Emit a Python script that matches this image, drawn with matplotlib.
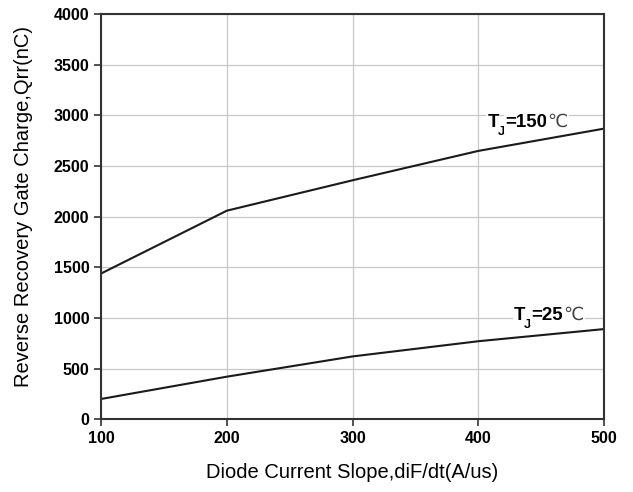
import matplotlib
matplotlib.use("Agg")
import matplotlib.pyplot as plt
from matplotlib.transforms import offset_copy

plt.rcParams['font.family'] = ['Liberation Sans', 'DejaVu Sans']

x_vals = [100, 200, 300, 400, 500]
qrr_150 = [1440, 2060, 2360, 2650, 2870]
qrr_25 = [200, 420, 620, 770, 890]
x_ticks = [100, 200, 300, 400, 500]
y_ticks = [0, 500, 1000, 1500, 2000, 2500, 3000, 3500, 4000]

fig = plt.figure(figsize=(6.33, 4.92), dpi=100)
ax = fig.add_axes([0.160, 0.148, 0.794, 0.823])

ax.plot(x_vals, qrr_150, color='#1a1a1a', lw=1.5)
ax.plot(x_vals, qrr_25, color='#1a1a1a', lw=1.5)

ax.set_xlim(100, 500)
ax.set_ylim(0, 4000)
ax.set_xticks(x_ticks)
ax.set_yticks(y_ticks)
ax.grid(True, color='#c8c8c8', lw=0.9)
ax.set_axisbelow(True)

for s in ax.spines.values():
    s.set_color('#333333')
    s.set_linewidth(1.5)

ax.tick_params(direction='out', length=5, width=1.2, color='#333333', labelsize=11.5)
for lab in ax.get_xticklabels() + ax.get_yticklabels():
    lab.set_fontweight('bold')

ax.set_xlabel('Diode Current Slope,diF/dt(A/us)', fontsize=14.5, labelpad=12)
ax.set_ylabel('Reverse Recovery Gate Charge,Qrr(nC)', fontsize=14.5)
ax.yaxis.set_label_coords(-0.135, 0.525)


def temp_label(x, y, num):
    bb = dict(facecolor='white', edgecolor='none', pad=1)
    r = fig.canvas.get_renderer()
    t1 = ax.text(x, y, 'T', fontsize=13.5, fontweight='bold', ha='left', va='baseline', bbox=bb)
    fig.canvas.draw()
    w = t1.get_window_extent(r).width
    t2 = ax.text(x, y, 'J', fontsize=9.5, fontweight='bold', ha='left', va='baseline',
                 transform=offset_copy(ax.transData, fig=fig, x=w * 72 / 100 - 1, y=-5.5, units='points'), bbox=bb)
    fig.canvas.draw()
    w2 = w + t2.get_window_extent(r).width
    t3 = ax.text(x, y, '=' + num, fontsize=13.5, fontweight='bold', ha='left', va='baseline',
                 transform=offset_copy(ax.transData, fig=fig, x=w2 * 72 / 100 - 1, y=0, units='points'), bbox=bb)
    fig.canvas.draw()
    w3 = w2 + t3.get_window_extent(r).width
    ax.text(x, y, '℃', fontsize=13, ha='left', va='baseline', color='#444444',
            family=['DejaVu Sans'],
            transform=offset_copy(ax.transData, fig=fig, x=w3 * 72 / 100 - 1, y=0, units='points'), bbox=bb)


temp_label(407.5, 2884, '150')
temp_label(428.5, 978, '25')

fig.savefig('out.png', dpi=100)
